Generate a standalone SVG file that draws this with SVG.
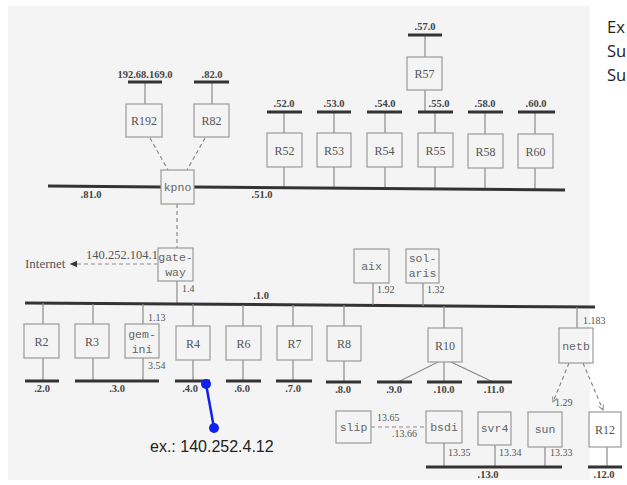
<svg xmlns="http://www.w3.org/2000/svg" width="627" height="485" viewBox="0 0 627 485">
<style>
.bg{fill:#f4f4f4}
.box{fill:none;stroke:#9a9a9a;stroke-width:1.2}
.ln{stroke:#8a8a8a;stroke-width:1.2;fill:none}
.dash{stroke:#8a8a8a;stroke-width:1.2;fill:none;stroke-dasharray:4 3}
.bus{stroke:#333;stroke-width:3;fill:none}
.bar{stroke:#333;stroke-width:3;fill:none}
.rn{font-family:"Liberation Serif",serif;font-size:12px;fill:#555;text-anchor:middle}
.mn{font-family:"Liberation Mono",monospace;font-size:11.5px;fill:#666;text-anchor:middle}
.net{font-family:"Liberation Serif",serif;font-size:10.5px;font-weight:bold;fill:#444;text-anchor:middle}
.ip{font-family:"Liberation Serif",serif;font-size:10px;fill:#555}
.note{font-family:"Liberation Sans",Arial,sans-serif;font-size:16px;fill:#222}
.side{font-family:"Open Sans",sans-serif;font-size:16.5px;fill:#222}
.blue{stroke:#1020f0;stroke-width:2.5}
.dot{fill:#1020f0}
</style>
<defs>
<marker id="ah" markerWidth="8" markerHeight="8" refX="7" refY="4" orient="auto" markerUnits="userSpaceOnUse">
<path d="M0,0.8 L7,4 L0,7.2 z" fill="#333"/>
</marker>
<marker id="ahs" markerWidth="6" markerHeight="6" refX="5" refY="3" orient="auto" markerUnits="userSpaceOnUse">
<path d="M0,0.5 L5,3 L0,5.5" fill="none" stroke="#8a8a8a" stroke-width="1"/>
</marker>
</defs>
<rect class="bg" x="8" y="6" width="582" height="474"/>

<g id="connectors">
<line class="ln" x1="145" y1="82" x2="145" y2="104"/>
<line class="ln" x1="212" y1="82" x2="212" y2="104"/>
<line class="dash" x1="150" y1="138" x2="168" y2="170"/>
<line class="dash" x1="205" y1="138" x2="187" y2="170"/>
<line class="ln" x1="425" y1="35" x2="425" y2="57"/>
<line class="ln" x1="425" y1="90" x2="425" y2="112"/>
<line class="ln" x1="284" y1="112" x2="284" y2="133"/>
<line class="ln" x1="334" y1="112" x2="334" y2="133"/>
<line class="ln" x1="385" y1="112" x2="385" y2="133"/>
<line class="ln" x1="435" y1="112" x2="435" y2="133"/>
<line class="ln" x1="485" y1="112" x2="485" y2="134"/>
<line class="ln" x1="535" y1="112" x2="535" y2="134"/>
<line class="ln" x1="284" y1="167" x2="284" y2="188"/>
<line class="ln" x1="334" y1="167" x2="334" y2="188"/>
<line class="ln" x1="385" y1="167" x2="385" y2="189"/>
<line class="ln" x1="435" y1="167" x2="435" y2="189"/>
<line class="ln" x1="485" y1="168" x2="485" y2="189"/>
<line class="ln" x1="535" y1="168" x2="535" y2="190"/>
<line class="bus" x1="48" y1="186" x2="161" y2="187"/>
<line class="bus" x1="194" y1="187" x2="565" y2="190"/>
<line class="dash" x1="177" y1="204" x2="177" y2="248"/>
<line class="dash" x1="158" y1="264" x2="70" y2="264" marker-end="url(#ah)"/>
<line class="ln" x1="177" y1="281" x2="177" y2="304"/>
<line class="bus" x1="25" y1="303" x2="595" y2="307"/>
<line class="ln" x1="373" y1="283" x2="373" y2="305"/>
<line class="ln" x1="423" y1="283" x2="423" y2="306"/>
<line class="ln" x1="43" y1="303" x2="43" y2="324"/>
<line class="ln" x1="93" y1="304" x2="93" y2="324"/>
<line class="ln" x1="143" y1="304" x2="143" y2="324"/>
<line class="ln" x1="193" y1="304" x2="193" y2="326"/>
<line class="ln" x1="243" y1="305" x2="243" y2="326"/>
<line class="ln" x1="293" y1="305" x2="293" y2="326"/>
<line class="ln" x1="344" y1="305" x2="344" y2="326"/>
<line class="ln" x1="444" y1="306" x2="444" y2="328"/>
<line class="ln" x1="577" y1="307" x2="577" y2="328"/>
<line class="ln" x1="43" y1="358" x2="43" y2="381"/>
<line class="ln" x1="93" y1="358" x2="93" y2="381"/>
<line class="ln" x1="143" y1="358" x2="143" y2="381"/>
<line class="ln" x1="193" y1="360" x2="193" y2="381"/>
<line class="ln" x1="243" y1="360" x2="243" y2="381"/>
<line class="ln" x1="293" y1="360" x2="293" y2="381"/>
<line class="ln" x1="344" y1="361" x2="344" y2="382"/>
<line class="ln" x1="438" y1="362" x2="398" y2="382"/>
<line class="ln" x1="444" y1="362" x2="444" y2="382"/>
<line class="ln" x1="451" y1="362" x2="493" y2="382"/>
<line class="dash" x1="569" y1="363" x2="553" y2="402" marker-end="url(#ahs)"/>
<line class="dash" x1="583" y1="363" x2="603" y2="410" marker-end="url(#ahs)"/>
<line class="dash" x1="371" y1="427" x2="426" y2="427"/>
<line class="ln" x1="444" y1="443" x2="444" y2="467"/>
<line class="ln" x1="495" y1="445" x2="495" y2="467"/>
<line class="ln" x1="545" y1="447" x2="545" y2="467"/>
<line class="ln" x1="607" y1="447" x2="607" y2="467"/>
</g>

<g id="subnet-bars">
<line class="bar" x1="128" y1="82" x2="162" y2="82"/>
<line class="bar" x1="194" y1="82" x2="229" y2="82"/>
<line class="bar" x1="408" y1="35" x2="442" y2="35"/>
<line class="bar" x1="267" y1="112" x2="302" y2="112"/>
<line class="bar" x1="317" y1="112" x2="351" y2="112"/>
<line class="bar" x1="367" y1="112" x2="402" y2="112"/>
<line class="bar" x1="418" y1="112" x2="453" y2="112"/>
<line class="bar" x1="468" y1="112" x2="503" y2="112"/>
<line class="bar" x1="518" y1="112" x2="555" y2="112"/>
<line class="bar" x1="25" y1="381" x2="59" y2="381"/>
<line class="bar" x1="75" y1="381" x2="159" y2="381"/>
<line class="bar" x1="175" y1="381" x2="210" y2="381"/>
<line class="bar" x1="226" y1="381" x2="261" y2="381"/>
<line class="bar" x1="276" y1="381" x2="312" y2="381"/>
<line class="bar" x1="326" y1="382" x2="361" y2="382"/>
<line class="bar" x1="377" y1="382" x2="412" y2="382"/>
<line class="bar" x1="427" y1="382" x2="462" y2="382"/>
<line class="bar" x1="477" y1="382" x2="512" y2="382"/>
<line class="bar" x1="426" y1="467" x2="562" y2="467"/>
<line class="bar" x1="588" y1="467" x2="622" y2="467"/>
</g>

<g id="net-labels">
<text class="net" x="145" y="78">192.68.169.0</text>
<text class="net" x="212" y="78">.82.0</text>
<text class="net" x="425" y="30">.57.0</text>
<text class="net" x="284" y="107">.52.0</text>
<text class="net" x="334" y="107">.53.0</text>
<text class="net" x="385" y="107">.54.0</text>
<text class="net" x="439" y="107">.55.0</text>
<text class="net" x="485" y="107">.58.0</text>
<text class="net" x="536" y="107">.60.0</text>
<text class="net" x="91" y="198">.81.0</text>
<text class="net" x="262" y="198">.51.0</text>
<text class="net" x="261" y="299">.1.0</text>
<text class="net" x="42" y="392">.2.0</text>
<text class="net" x="117" y="392">.3.0</text>
<text class="net" x="190" y="392">.4.0</text>
<text class="net" x="242" y="392">.6.0</text>
<text class="net" x="293" y="392">.7.0</text>
<text class="net" x="343" y="393">.8.0</text>
<text class="net" x="394" y="393">.9.0</text>
<text class="net" x="444" y="393">.10.0</text>
<text class="net" x="494" y="393">.11.0</text>
<text class="net" x="488" y="478">.13.0</text>
<text class="net" x="604" y="478">.12.0</text>
</g>

<g id="ip-labels">
<text class="ip" x="86" y="259" style="font-size:12.5px">140.252.104.1</text>
<text class="ip" x="25" y="268" style="font-size:13px">Internet</text>
<text class="ip" x="182" y="292">1.4</text>
<text class="ip" x="148" y="321">1.13</text>
<text class="ip" x="148" y="369">3.54</text>
<text class="ip" x="377" y="293">1.92</text>
<text class="ip" x="427" y="293">1.32</text>
<text class="ip" x="583" y="324">1.183</text>
<text class="ip" x="555" y="406">1.29</text>
<text class="ip" x="377" y="421">13.65</text>
<text class="ip" x="392" y="437">.13.66</text>
<text class="ip" x="448" y="456">13.35</text>
<text class="ip" x="499" y="456">13.34</text>
<text class="ip" x="550" y="456">13.33</text>
</g>

<g id="R192"><rect class="box" x="126" y="104" width="36" height="33"/><text class="rn" x="144" y="125">R192</text></g>
<g id="R82"><rect class="box" x="194" y="104" width="35" height="33"/><text class="rn" x="211.5" y="125">R82</text></g>
<g id="R57"><rect class="box" x="407" y="57" width="35" height="33"/><text class="rn" x="424.5" y="78">R57</text></g>
<g id="R52"><rect class="box" x="267" y="133" width="35" height="34"/><text class="rn" x="284.5" y="155">R52</text></g>
<g id="R53"><rect class="box" x="317" y="133" width="34" height="34"/><text class="rn" x="334" y="155">R53</text></g>
<g id="R54"><rect class="box" x="367" y="133" width="35" height="34"/><text class="rn" x="384.5" y="155">R54</text></g>
<g id="R55"><rect class="box" x="418" y="133" width="35" height="34"/><text class="rn" x="435.5" y="155">R55</text></g>
<g id="R58"><rect class="box" x="468" y="134" width="35" height="34"/><text class="rn" x="485.5" y="156">R58</text></g>
<g id="R60"><rect class="box" x="518" y="134" width="35" height="34"/><text class="rn" x="535.5" y="156">R60</text></g>
<g id="kpno"><rect class="box" x="161" y="170" width="33" height="34"/><text class="mn" x="177.5" y="191">kpno</text></g>
<g id="gateway"><rect class="box" x="158" y="248" width="35" height="33"/><text class="mn" x="175.5" y="261">gate-</text><text class="mn" x="175.5" y="276">way</text></g>
<g id="aix"><rect class="box" x="354" y="249" width="35" height="34"/><text class="mn" x="371.5" y="270">aix</text></g>
<g id="solaris"><rect class="box" x="406" y="249" width="33" height="34"/><text class="mn" x="422.5" y="262">sol-</text><text class="mn" x="422.5" y="277">aris</text></g>
<g id="R2"><rect class="box" x="24" y="324" width="35" height="34"/><text class="rn" x="41.5" y="346">R2</text></g>
<g id="R3"><rect class="box" x="75" y="324" width="34" height="34"/><text class="rn" x="92" y="346">R3</text></g>
<g id="gemini"><rect class="box" x="125" y="324" width="34" height="34"/><text class="mn" x="142" y="338">gem-</text><text class="mn" x="142" y="353">ini</text></g>
<g id="R4"><rect class="box" x="176" y="326" width="34" height="34"/><text class="rn" x="193" y="348">R4</text></g>
<g id="R6"><rect class="box" x="226" y="326" width="35" height="34"/><text class="rn" x="243.5" y="348">R6</text></g>
<g id="R7"><rect class="box" x="277" y="326" width="35" height="34"/><text class="rn" x="294.5" y="348">R7</text></g>
<g id="R8"><rect class="box" x="327" y="326" width="34" height="35"/><text class="rn" x="344" y="348">R8</text></g>
<g id="R10"><rect class="box" x="428" y="328" width="34" height="34"/><text class="rn" x="445" y="350">R10</text></g>
<g id="netb"><rect class="box" x="559" y="328" width="34" height="35"/><text class="mn" x="576" y="350">netb</text></g>
<g id="slip"><rect class="box" x="336" y="411" width="35" height="32"/><text class="mn" x="353.5" y="431">slip</text></g>
<g id="bsdi"><rect class="box" x="426" y="411" width="36" height="32"/><text class="mn" x="444" y="431">bsdi</text></g>
<g id="svr4"><rect class="box" x="478" y="412" width="33" height="33"/><text class="mn" x="494.5" y="432">svr4</text></g>
<g id="sun"><rect class="box" x="528" y="412" width="34" height="35"/><text class="mn" x="545" y="433">sun</text></g>
<g id="R12"><rect class="box" x="589" y="412" width="32" height="35"/><text class="rn" x="605" y="434">R12</text></g>

<g id="annotation">
<line class="blue" x1="206" y1="384" x2="214" y2="428"/>
<circle class="dot" cx="206" cy="384" r="5"/>
<circle class="dot" cx="214" cy="428" r="5"/>
<text class="note" x="150" y="452">ex.: 140.252.4.12</text>
</g>

<g id="side-text">
<text class="side" x="607" y="33">Ex</text>
<text class="side" x="607" y="57">Su</text>
<text class="side" x="607" y="81">Su</text>
</g>
</svg>
